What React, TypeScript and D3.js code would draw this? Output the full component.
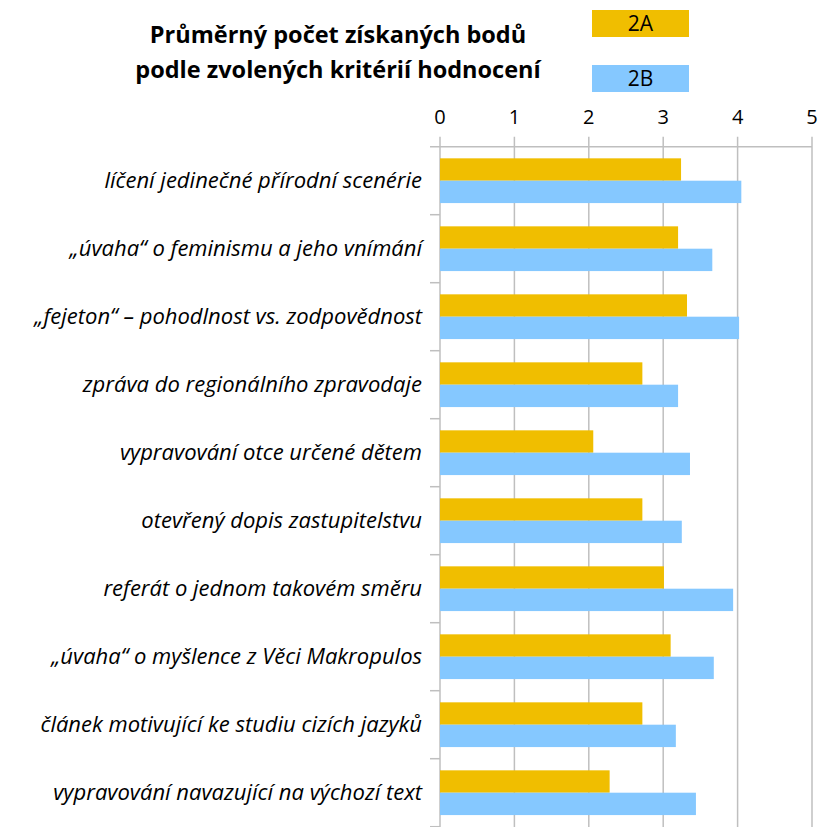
import React from "react";
import * as d3 from "d3";

const categories = [
  "líčení jedinečné přírodní scenérie",
  "„úvaha“ o feminismu a jeho vnímání",
  "„fejeton“ – pohodlnost vs. zodpovědnost",
  "zpráva do regionálního zpravodaje",
  "vypravování otce určené dětem",
  "otevřený dopis zastupitelstvu",
  "referát o jednom takovém směru",
  "„úvaha“ o myšlence z Věci Makropulos",
  "článek motivující ke studiu cizích jazyků",
  "vypravování navazující na výchozí text",
];
const values2A = [3.24, 3.2, 3.32, 2.72, 2.06, 2.72, 3.01, 3.1, 2.72, 2.28];
const values2B = [4.05, 3.66, 4.02, 3.2, 3.36, 3.25, 3.94, 3.68, 3.17, 3.44];
const seriesNames = ["2A", "2B"];
const seriesColors = ["#F0BE00", "#85C8FF"];
const tickValues = [0, 1, 2, 3, 4, 5];
const titleLines = ["Průměrný počet získaných bodů", "podle zvolených kritérií hodnocení"];

const W = 820;
const H = 827;
const left = 440;
const right = 812;
const top = 146.7;
const bottom = 826.7;

export default function App() {
  const x = d3.scaleLinear().domain([0, 5]).range([left, right]);
  const y = d3.scaleBand<string>().domain(categories).range([top, bottom]).padding(0);
  const sub = d3
    .scaleBand<string>()
    .domain(seriesNames)
    .range([0, y.bandwidth()])
    .paddingInner(0)
    .paddingOuter(0.52);
  const data = [values2A, values2B];
  const grid = "#BFBFBF";
  const font = "'Open Sans', Lato, sans-serif";

  return (
    <svg
      width={W}
      height={H}
      style={{ position: "absolute", left: 0, top: 0, background: "#fff" }}
      fontFamily={font}
    >
      {/* title */}
      {titleLines.map((t, i) => (
        <text
          key={i}
          x={338}
          y={43 + i * 35}
          textAnchor="middle"
          fontSize={23.5}
          fontWeight="bold"
          fill="#000"
        >
          {t}
        </text>
      ))}
      {/* legend */}
      {seriesNames.map((s, i) => (
        <g key={s}>
          <rect x={592} y={10 + i * 55} width={97} height={27} fill={seriesColors[i]} />
          <text x={640.5} y={31 + i * 55} textAnchor="middle" fontSize={21} fill="#000">
            {s}
          </text>
        </g>
      ))}
      {/* gridlines */}
      {tickValues.map((t) => (
        <line
          key={t}
          x1={x(t)}
          x2={x(t)}
          y1={top - 10}
          y2={H}
          stroke={grid}
          strokeWidth={1.5}
        />
      ))}
      {/* top axis line */}
      <line x1={left - 10} x2={right} y1={top} y2={top} stroke={grid} strokeWidth={1.5} />
      {/* category ticks */}
      {categories.map((c) => (
        <line
          key={c}
          x1={left - 10}
          x2={left}
          y1={(y(c) as number) + y.bandwidth()}
          y2={(y(c) as number) + y.bandwidth()}
          stroke={grid}
          strokeWidth={1.5}
        />
      ))}
      {/* tick labels */}
      {tickValues.map((t) => (
        <text key={t} x={x(t)} y={124} textAnchor="middle" fontSize={20} fill="#000">
          {t}
        </text>
      ))}
      {/* bars */}
      {categories.map((c, ci) =>
        seriesNames.map((s, si) => (
          <rect
            key={c + s}
            x={x(0)}
            y={(y(c) as number) + (sub(s) as number)}
            width={x(data[si][ci]) - x(0)}
            height={sub.bandwidth()}
            fill={seriesColors[si]}
          />
        ))
      )}
      {/* category labels */}
      {categories.map((c) => (
        <text
          key={c}
          x={422}
          y={(y(c) as number) + y.bandwidth() / 2 + 7.5}
          textAnchor="end"
          fontSize={22}
          fontStyle="italic"
          fill="#000"
        >
          {c}
        </text>
      ))}
    </svg>
  );
}
